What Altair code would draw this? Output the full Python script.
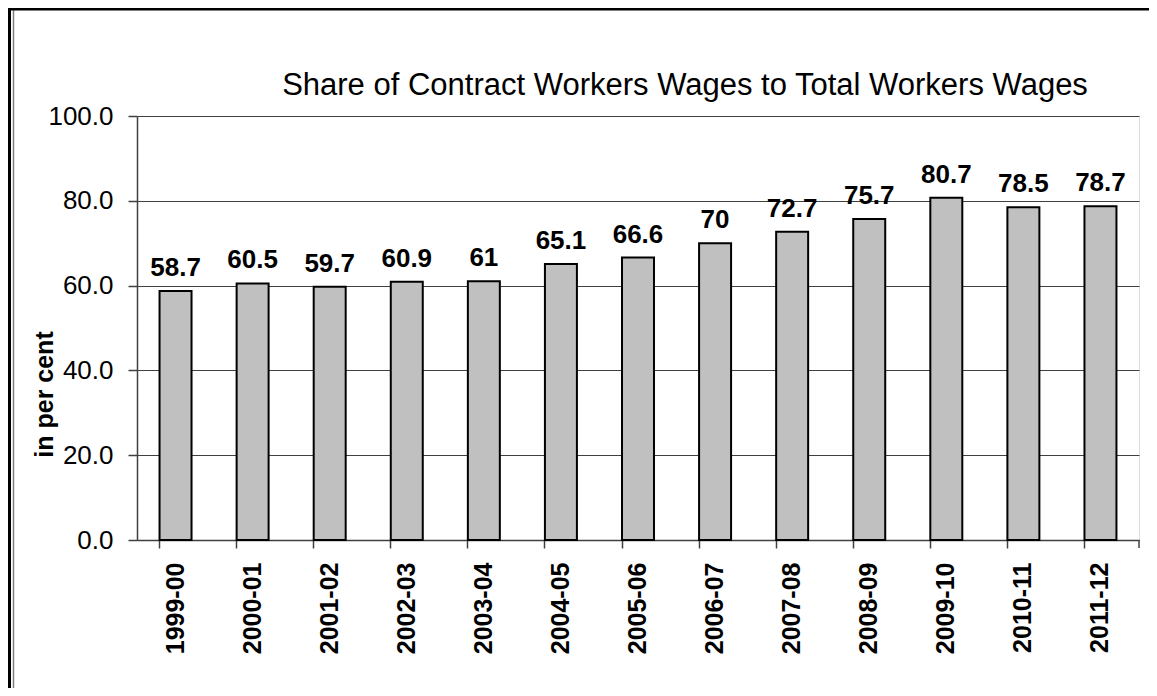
import altair as alt
import pandas as pd

years = ["1999-00", "2000-01", "2001-02", "2002-03", "2003-04", "2004-05", "2005-06",
         "2006-07", "2007-08", "2008-09", "2009-10", "2010-11", "2011-12"]
shares = [58.7, 60.5, 59.7, 60.9, 61, 65.1, 66.6, 70, 72.7, 75.7, 80.7, 78.5, 78.7]
y_ticks = [0, 20, 40, 60, 80, 100]
chart_title = "Share of Contract Workers Wages to Total Workers Wages"

df = pd.DataFrame({
    "year": years,
    "share": shares,
    "label": [f"{v:g}" for v in shares],
})

FONT = "Liberation Sans"
W, H = 1002, 424

x_enc = alt.X(
    "year:N", sort=years,
    scale=alt.Scale(paddingInner=0.585, paddingOuter=0.2925),
    axis=alt.Axis(
        title=None, labelAngle=270, labelFont=FONT, labelFontSize=25,
        labelFontWeight="bold", labelColor="black", labelPadding=14,
        tickSize=8, tickColor="#404040", domainColor="#404040",
        domainWidth=1.5, tickWidth=1.5, bandPosition=0, grid=False,
    ),
)
y_enc = alt.Y(
    "share:Q",
    scale=alt.Scale(domain=[0, 100], nice=False),
    axis=alt.Axis(
        title="in per cent", values=y_ticks, format=".1f",
        labelFont=FONT, labelFontSize=26, labelColor="black", labelPadding=15,
        tickSize=9, tickColor="#404040", tickWidth=1.5,
        domainColor="#404040", domainWidth=1.5,
        gridColor="#404040", gridWidth=1,
        titleFont=FONT, titleFontSize=25, titleFontWeight="bold", titleColor="black",
        titleAngle=270, titleAlign="center", titleBaseline="middle",
        titleX=-93, titleY=278,
    ),
)

base = alt.Chart(df)

bars = base.mark_bar(fill="#C0C0C0", stroke="black", strokeWidth=2).encode(
    x=x_enc, y=y_enc
)

labels = base.mark_text(
    font=FONT, fontSize=26, fontWeight="bold", color="black",
    baseline="alphabetic", dy=-15,
).encode(x=alt.X("year:N", sort=years), y="share:Q", text="label:N")

one = alt.Chart(pd.DataFrame({"t": [chart_title]}))
title_mark = one.mark_text(
    font=FONT, fontSize=31, fontWeight="normal", color="black",
    align="center", baseline="alphabetic",
).encode(x=alt.value(548), y=alt.value(-21), text="t:N")
end_tick = one.mark_rule(color="#404040", strokeWidth=1.5).encode(
    x=alt.value(W), y=alt.value(H), y2=alt.value(H + 8)
)
frame_left = one.mark_rule(color="black", strokeWidth=3).encode(
    x=alt.value(-127.5), y=alt.value(-110), y2=alt.value(H + 150)
)
frame_left2 = one.mark_rule(color="#808080", strokeWidth=1.5).encode(
    x=alt.value(-123.5), y=alt.value(-106), y2=alt.value(H + 150)
)
frame_top = one.mark_rule(color="black", strokeWidth=3).encode(
    x=alt.value(-130), x2=alt.value(W + 15), y=alt.value(-107)
)

chart = alt.layer(
    bars, labels, title_mark, end_tick, frame_left, frame_left2, frame_top
).properties(
    width=W, height=H,
    autosize=alt.AutoSizeParams(type="none"),
    padding={"left": 129, "top": 108, "right": 10, "bottom": 148},
).configure_view(
    stroke="#808080", strokeWidth=2
).configure(background="white")

chart.save("out.html", embed_options={"renderer": "svg", "actions": False})
